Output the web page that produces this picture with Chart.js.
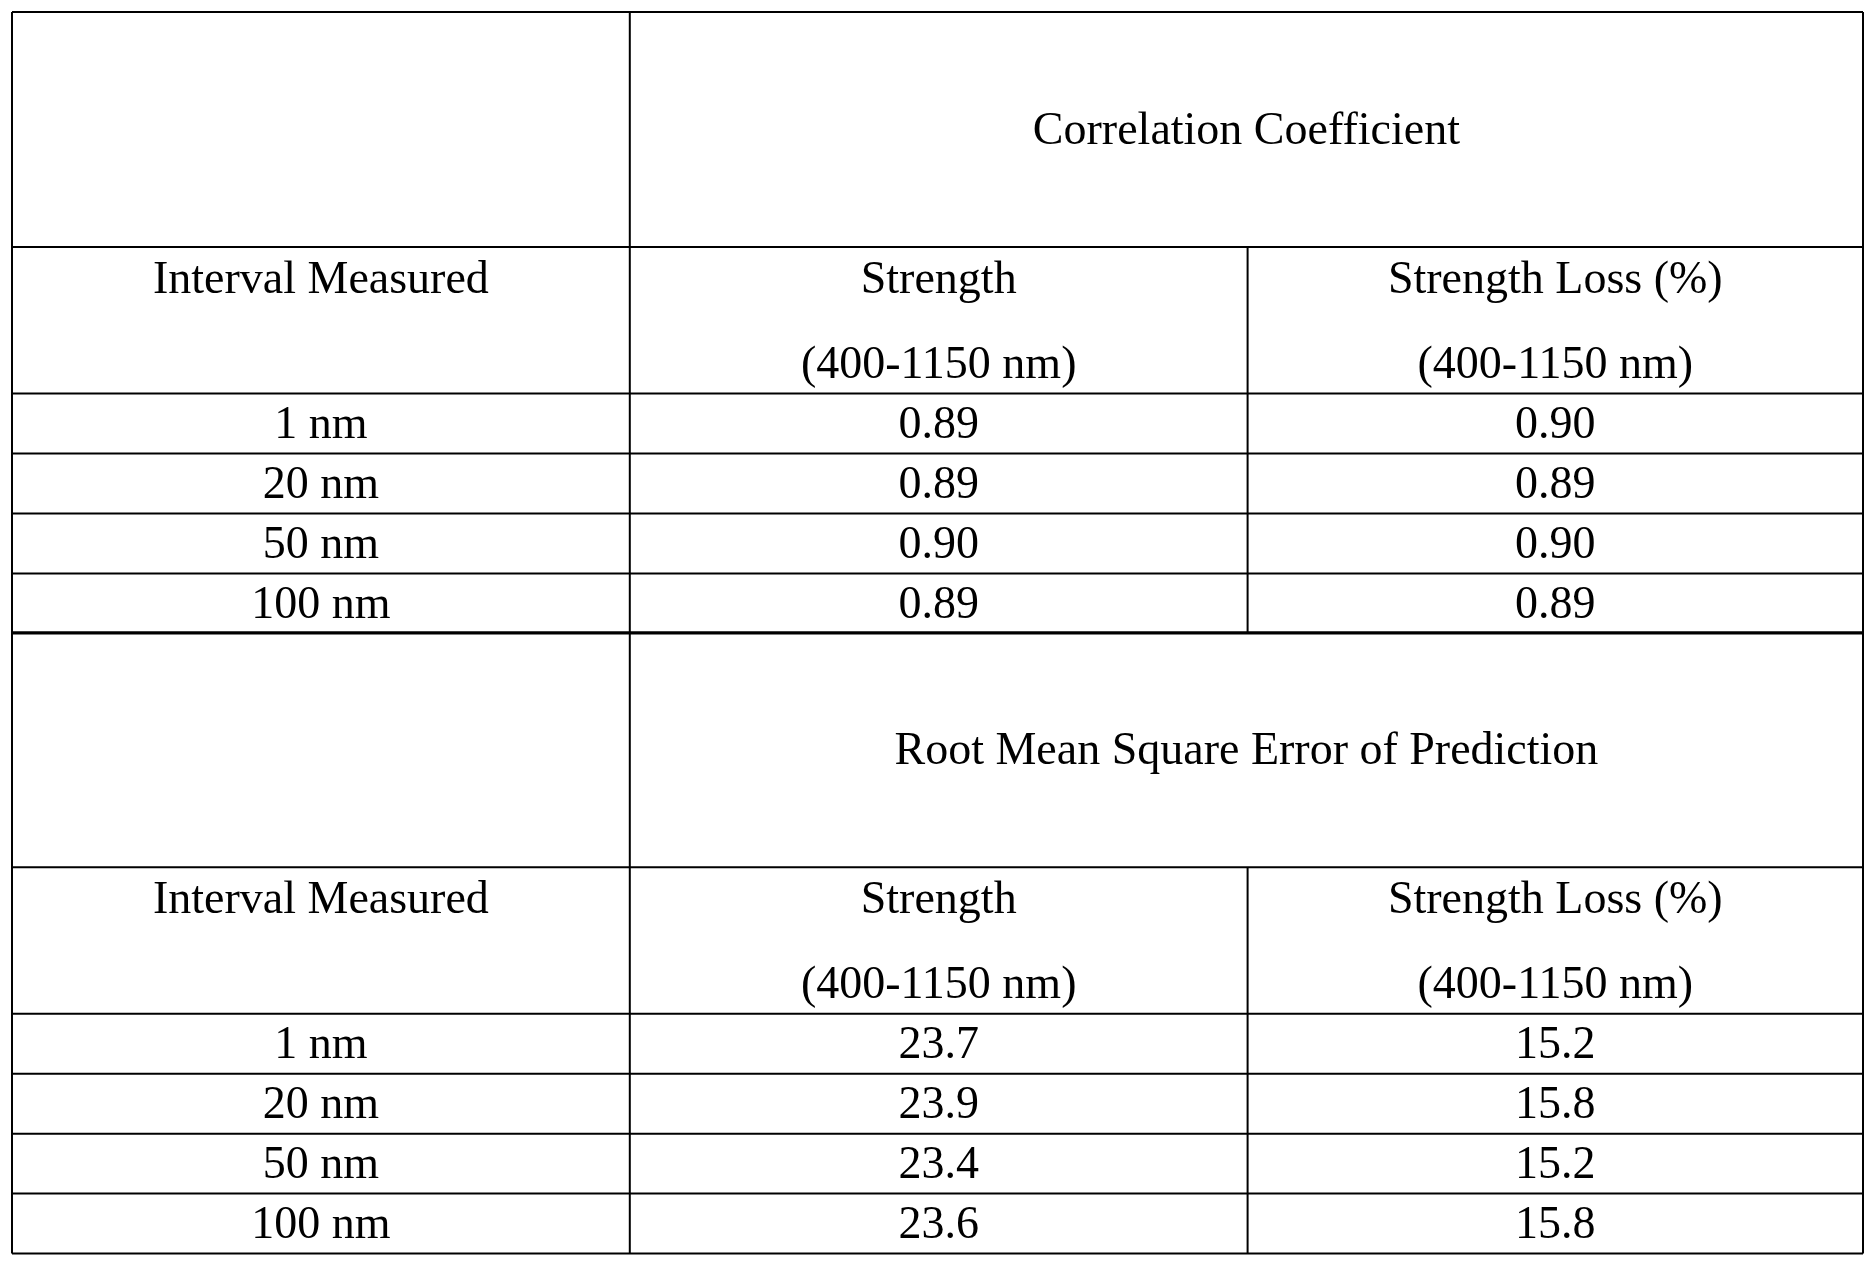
<!DOCTYPE html>
<html>
<head>
<meta charset="utf-8">
<script src="https://cdn.jsdelivr.net/npm/chart.js@4/dist/chart.umd.min.js"></script>
<style>
  html, body { margin: 0; padding: 0; background: #fff; }
  #wrap { width: 1875px; height: 1262px; }
</style>
</head>
<body>
<div id="wrap"><canvas id="table"></canvas></div>
<script>
// table content
const intervals = ["1 nm", "20 nm", "50 nm", "100 nm"];
const corrStrength = ["0.89", "0.89", "0.90", "0.89"];
const corrLoss = ["0.90", "0.89", "0.90", "0.89"];
const rmseStrength = ["23.7", "23.9", "23.4", "23.6"];
const rmseLoss = ["15.2", "15.8", "15.2", "15.8"];
const sectionTitles = ["Correlation Coefficient", "Root Mean Square Error of Prediction"];
const colHeads = ["Interval Measured", "Strength", "Strength Loss (%)"];
const rangeLabel = "(400-1150 nm)";

// grid in layout units (x 0..1563, y 0..1052)
const colX = [10, 525, 1040, 1553];
const sectionTop = [10, 527];

const tablePlugin = {
  id: "tableDraw",
  afterDraw(chart) {
    const ctx = chart.ctx;
    const sx = v => chart.scales.x.getPixelForValue(v);
    const sy = v => chart.scales.y.getPixelForValue(v);
    ctx.save();
    ctx.strokeStyle = "#000";
    ctx.lineWidth = 2;
    ctx.fillStyle = "#000";
    ctx.textAlign = "center";
    ctx.textBaseline = "middle";
    const hline = (x1, x2, y) => { ctx.beginPath(); ctx.moveTo(sx(x1), sy(y)); ctx.lineTo(sx(x2), sy(y)); ctx.stroke(); };
    const vline = (x, y1, y2) => { ctx.beginPath(); ctx.moveTo(sx(x), sy(y1)); ctx.lineTo(sx(x), sy(y2)); ctx.stroke(); };
    const text = (t, x, y, size) => { ctx.font = size + "px 'Liberation Serif', 'Times New Roman', serif"; ctx.fillText(t, sx(x), sy(y)); };

    sectionTop.forEach((top, s) => {
      const headBot = top + 196;
      const subBot = headBot + 122;
      const rowH = 50;
      const bottom = subBot + rowH * intervals.length;
      hline(colX[0], colX[3], top);
      hline(colX[0], colX[3], headBot);
      hline(colX[0], colX[3], subBot);
      for (let i = 1; i <= intervals.length; i++) hline(colX[0], colX[3], subBot + rowH * i);
      vline(colX[0], top, bottom);
      vline(colX[1], top, bottom);
      vline(colX[3], top, bottom);
      vline(colX[2], headBot, bottom);

      text(sectionTitles[s], (colX[1] + colX[3]) / 2, top + 100, 46);
      for (let c = 0; c < 3; c++) text(colHeads[c], (colX[c] + colX[c + 1]) / 2, headBot + 28, 46);
      text(rangeLabel, (colX[1] + colX[2]) / 2, headBot + 99, 46);
      text(rangeLabel, (colX[2] + colX[3]) / 2, headBot + 99, 46);

      const a = s === 0 ? corrStrength : rmseStrength;
      const b = s === 0 ? corrLoss : rmseLoss;
      intervals.forEach((iv, i) => {
        const yc = subBot + rowH * i + 27;
        text(iv, (colX[0] + colX[1]) / 2, yc, 46);
        text(a[i], (colX[1] + colX[2]) / 2, yc, 46);
        text(b[i], (colX[2] + colX[3]) / 2, yc, 46);
      });
    });
    ctx.restore();
  }
};

new Chart(document.getElementById("table"), {
  type: "scatter",
  data: { datasets: [{ data: [], pointRadius: 0 }] },
  plugins: [tablePlugin],
  options: {
    responsive: true,
    maintainAspectRatio: false,
    animation: false,
    layout: { padding: 0 },
    plugins: { legend: { display: false }, tooltip: { enabled: false } },
    scales: {
      x: { type: "linear", min: 0, max: 1563, display: false },
      y: { type: "linear", min: 0, max: 1052, reverse: true, display: false }
    }
  }
});
</script>
</body>
</html>
